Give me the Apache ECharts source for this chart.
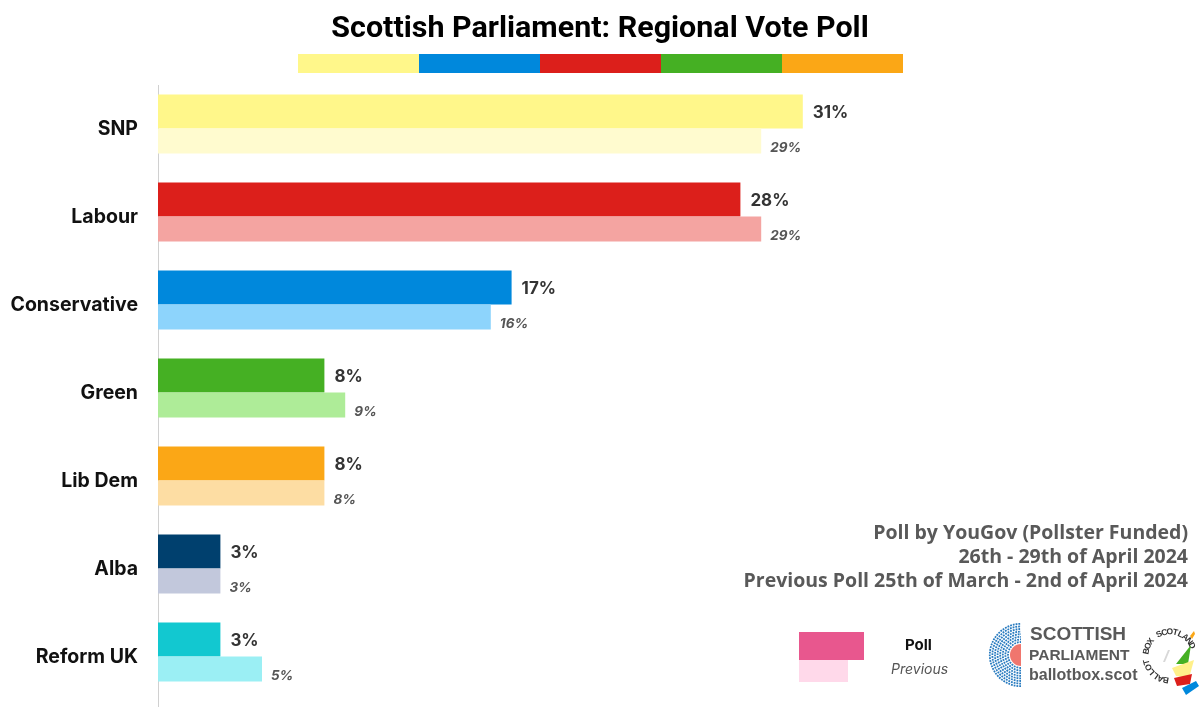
<!DOCTYPE html>
<html>
<head>
<meta charset="utf-8">
<script src="https://cdn.jsdelivr.net/npm/echarts@6/dist/echarts.min.js"></script>
<style>
  html, body { margin: 0; padding: 0; background: #fff; }
  #chart { width: 1200px; height: 707px; }
</style>
</head>
<body>
<div id="chart"></div>
<script>
// poll data
let parties = ['SNP', 'Labour', 'Conservative', 'Green', 'Lib Dem', 'Alba', 'Reform UK'];
let pollValues = [31, 28, 17, 8, 8, 3, 3];
let previousValues = [29, 29, 16, 9, 8, 3, 5];
let pollColors = ['#FFF78A', '#DC1F1B', '#0088DC', '#45B023', '#FBA716', '#00406E', '#12C8D0'];
let previousColors = ['#FFFBCF', '#F4A4A1', '#8DD4FC', '#AEEC98', '#FDDDA3', '#C2C8DC', '#9BEFF4'];
let stripColors = ['#FFF78A', '#0088DC', '#DC1F1B', '#45B023', '#FBA716'];

let chart = echarts.init(document.getElementById('chart'));

let strip = stripColors.map(function(color, i) {
  return {
    type: 'rect',
    left: 298 + i * 121,
    top: 54,
    shape: {width: 121, height: 19},
    style: {fill: color}
  };
});

let infoText = {
  fontFamily: 'Open Sans',
  fontWeight: 'bold',
  fontSize: 19.5,
  fill: '#595959',
  textAlign: 'right'
};

// parliament dots logo: concentric dotted half rings
let rings = [13, 15.6, 18.2, 20.8, 23.4, 26, 28.6, 31.2].map(function(r) {
  return {
    type: 'arc',
    shape: {cx: 1021, cy: 655, r: r, startAngle: Math.PI / 2, endAngle: Math.PI * 1.5},
    style: {fill: 'none', stroke: '#2a7cc0', lineWidth: 1.8, lineDash: [1.8, 1.0]}
  };
});

// circular "BALLOT BOX SCOTLAND" lettering
let ringText = 'BALLOT BOX SCOTLAND'.split('');
let ringLetters = ringText.map(function(ch, i) {
  let a0 = 100 * Math.PI / 180;
  let a1 = 335 * Math.PI / 180;
  let a = a0 + (a1 - a0) * i / (ringText.length - 1);
  return {
    type: 'text',
    x: 1170 + 24 * Math.cos(a),
    y: 656 + 24 * Math.sin(a),
    rotation: -(a + Math.PI / 2),
    style: {
      text: ch,
      fontFamily: 'Liberation Sans',
      fontWeight: 'bold',
      fontSize: 8.5,
      fill: '#333',
      textAlign: 'center',
      textVerticalAlign: 'middle'
    }
  };
});

chart.setOption({
  animation: false,
  grid: {
    left: 158,
    right: 210,
    top: 80,
    bottom: 11,
    containLabel: false
  },
  xAxis: {
    type: 'value',
    min: 0,
    max: 40,
    show: false
  },
  yAxis: {
    type: 'category',
    data: parties,
    inverse: true,
    axisTick: {show: false},
    axisLine: {show: false},
    axisLabel: {
      margin: 20,
      fontFamily: 'Inter',
      fontWeight: 'bold',
      fontSize: 19.5,
      color: '#111',
      verticalAlign: 'top',
      lineHeight: 11
    }
  },
  series: [
    {
      name: 'Poll',
      type: 'bar',
      barWidth: 34,
      barGap: '0%',
      data: pollValues.map(function(v, i) {
        return {value: v, itemStyle: {color: pollColors[i]}};
      }),
      label: {
        show: true,
        position: 'right',
        distance: 10,
        offset: [0, 1],
        formatter: '{c}%',
        fontFamily: 'Inter',
        fontWeight: 'bold',
        fontSize: 17,
        color: '#333'
      }
    },
    {
      name: 'Previous',
      type: 'bar',
      barWidth: 25,
      barGap: '0%',
      data: previousValues.map(function(v, i) {
        return {value: v, itemStyle: {color: previousColors[i]}};
      }),
      label: {
        show: true,
        position: 'right',
        distance: 9,
        offset: [0, 7],
        formatter: '{c}%',
        fontFamily: 'Inter',
        fontStyle: 'italic',
        fontWeight: 'bold',
        fontSize: 13.5,
        color: '#555'
      }
    }
  ],
  graphic: strip.concat(rings, ringLetters, [
    {
      type: 'text',
      x: 600,
      y: 30,
      scaleX: 1.05,
      style: {
        text: 'Scottish Parliament: Regional Vote Poll',
        fontFamily: 'Roboto',
        fontWeight: 'bold',
        fontSize: 29,
        fill: '#000',
        textAlign: 'center',
        textVerticalAlign: 'middle'
      }
    },
    {type: 'line', shape: {x1: 158.5, y1: 85, x2: 158.5, y2: 707}, style: {stroke: '#d0d0d0', lineWidth: 1}},
    {type: 'text', right: 12, top: 523, style: Object.assign({text: 'Poll by YouGov (Pollster Funded)'}, infoText)},
    {type: 'text', right: 12, top: 547, style: Object.assign({text: '26th - 29th of April 2024'}, infoText)},
    {type: 'text', right: 12, top: 571, style: Object.assign({text: 'Previous Poll 25th of March - 2nd of April 2024'}, infoText)},
    // legend
    {type: 'rect', left: 799, top: 632, shape: {width: 65, height: 28}, style: {fill: '#E8578E'}},
    {type: 'rect', left: 799, top: 660, shape: {width: 49, height: 22}, style: {fill: '#FFD9EA'}},
    {type: 'text', left: 905, top: 638, style: {text: 'Poll', fontFamily: 'Inter', fontWeight: 'bold', fontSize: 15, fill: '#111'}},
    {type: 'text', left: 891, top: 663, style: {text: 'Previous', fontFamily: 'Inter', fontStyle: 'italic', fontSize: 14, fill: '#555'}},
    // logo
    {type: 'sector', shape: {cx: 1021, cy: 655, r0: 0, r: 11, startAngle: Math.PI / 2, endAngle: Math.PI * 1.5}, style: {fill: '#F0766E'}},
    {type: 'text', left: 1030, top: 625, style: {text: 'SCOTTISH', fontFamily: 'Liberation Sans', fontWeight: 'bold', fontSize: 19, fill: '#595959'}},
    {type: 'text', left: 1029, top: 648, style: {text: 'PARLIAMENT', fontFamily: 'Liberation Sans', fontWeight: 'bold', fontSize: 15.5, fill: '#595959'}},
    {type: 'text', left: 1029, top: 668, style: {text: 'ballotbox.scot', fontFamily: 'Liberation Sans', fontWeight: 'bold', fontSize: 16, fill: '#595959'}},
    {type: 'polygon', shape: {points: [[1176, 664], [1191, 645], [1188, 664]]}, style: {fill: '#45B023'}},
    {type: 'polygon', shape: {points: [[1172, 668], [1194, 660], [1189, 678], [1176, 676]]}, style: {fill: '#FFF08A'}},
    {type: 'polygon', shape: {points: [[1174, 678], [1192, 674], [1190, 684], [1177, 686]]}, style: {fill: '#DC1F1B'}},
    {type: 'polygon', shape: {points: [[1182, 688], [1196, 681], [1199, 686], [1186, 695]]}, style: {fill: '#0088DC'}},
    {type: 'polygon', shape: {points: [[1190, 636], [1194, 631], [1195, 634], [1192, 639]]}, style: {fill: '#FBA716'}},
    {type: 'polygon', shape: {points: [[1163, 662], [1168, 650], [1170, 650], [1165, 662]]}, style: {fill: '#d8d8d8'}}
  ])
});
</script>
</body>
</html>
